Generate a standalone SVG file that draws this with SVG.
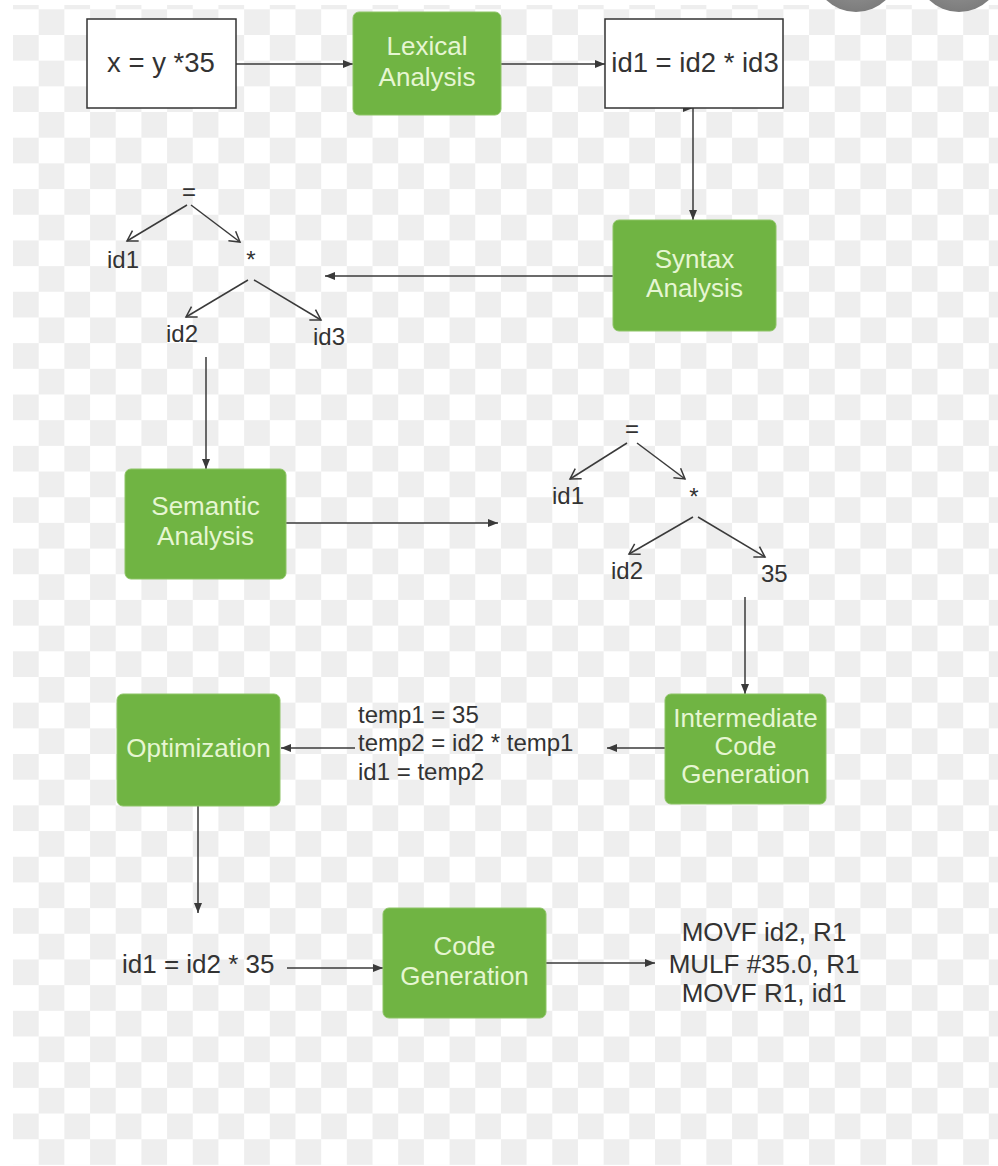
<svg xmlns="http://www.w3.org/2000/svg" width="998" height="1166" viewBox="0 0 998 1166">
<defs>
<pattern id="chk" x="13" y="9.3" width="51.36" height="51.36" patternUnits="userSpaceOnUse">
<rect width="51.36" height="51.36" fill="#ffffff"/>
<rect x="25.68" y="0" width="25.68" height="25.68" fill="#eeeeee"/>
<rect x="0" y="25.68" width="25.68" height="25.68" fill="#eeeeee"/>
</pattern>
<marker id="ah" markerUnits="userSpaceOnUse" markerWidth="11" markerHeight="9" refX="10" refY="4.5" orient="auto">
<path d="M0,0.5 L10,4.5 L0,8.5 z" fill="#3a3a3a"/>
</marker>
<marker id="av" markerUnits="userSpaceOnUse" markerWidth="14" markerHeight="14" refX="11" refY="7" orient="auto">
<path d="M1,1 L11,7 L1,13" fill="none" stroke="#3a3a3a" stroke-width="1.5"/>
</marker>
<radialGradient id="btn" cx="0.5" cy="0.4" r="0.6">
<stop offset="0" stop-color="#a8a8a8"/>
<stop offset="1" stop-color="#7c7c7c"/>
</radialGradient>
</defs>
<style>
.t{font-family:"Liberation Sans",Arial,sans-serif;fill:#333333}
.g{fill:#70b443;stroke:#8dc466;stroke-width:1}
.gt{font-family:"Liberation Sans",Arial,sans-serif;font-size:26px;fill:#e6f6d2;text-anchor:middle}
.w{fill:#ffffff;stroke:#333333;stroke-width:1.5}
.c{stroke:#3a3a3a;stroke-width:1.5;fill:none}
.ar{marker-end:url(#ah)}
.tv{marker-end:url(#av)}
</style>
<rect width="998" height="1166" fill="#ffffff"/>
<rect x="13" y="5" width="985" height="1160" fill="url(#chk)"/>
<circle cx="856" cy="-31" r="43" fill="url(#btn)"/>
<circle cx="959" cy="-31" r="43" fill="url(#btn)"/>

<g id="connectors">
<line class="c ar" x1="236" y1="64" x2="353" y2="64"/>
<line class="c ar" x1="501" y1="64" x2="605" y2="64"/>
<line class="c ar" x1="693" y1="108" x2="693" y2="220"/>
<path d="M683,104 L693,108 L683,112 z" fill="#3a3a3a"/>
<line class="c ar" x1="613" y1="276" x2="325" y2="276"/>
<line class="c ar" x1="206" y1="357" x2="206" y2="469"/>
<line class="c ar" x1="286" y1="523" x2="498" y2="523"/>
<line class="c ar" x1="745" y1="597" x2="745" y2="694"/>
<line class="c ar" x1="665" y1="748" x2="607" y2="748"/>
<line class="c ar" x1="355" y1="748" x2="281" y2="748"/>
<line class="c ar" x1="198" y1="806" x2="198" y2="913"/>
<line class="c ar" x1="287" y1="968" x2="383" y2="968"/>
<line class="c ar" x1="546" y1="963" x2="655" y2="963"/>
<line class="c tv" x1="187" y1="205" x2="127" y2="241"/>
<line class="c tv" x1="191" y1="205" x2="240" y2="242"/>
<line class="c tv" x1="248" y1="280" x2="186" y2="317"/>
<line class="c tv" x1="254" y1="280" x2="321" y2="320"/>
<line class="c tv" x1="627" y1="443" x2="570" y2="479"/>
<line class="c tv" x1="637" y1="443" x2="685" y2="479"/>
<line class="c tv" x1="693" y1="517" x2="629" y2="554"/>
<line class="c tv" x1="698" y1="517" x2="765" y2="557"/>
</g>

<g id="source">
<rect class="w" x="87" y="19" width="149" height="89"/>
<text class="t" x="161" y="72" font-size="27.5" text-anchor="middle">x = y *35</text>
</g>
<g id="lexical">
<rect class="g" x="353" y="12" width="148" height="103" rx="6"/>
<text class="gt" x="427" y="55">Lexical</text>
<text class="gt" x="427" y="86">Analysis</text>
</g>
<g id="tokens">
<rect class="w" x="605" y="19" width="178" height="89"/>
<text class="t" x="695" y="72" font-size="27.5" text-anchor="middle">id1 = id2 * id3</text>
</g>
<g id="syntax">
<rect class="g" x="613" y="220" width="163" height="111" rx="6"/>
<text class="gt" x="694.5" y="268">Syntax</text>
<text class="gt" x="694.5" y="297">Analysis</text>
</g>
<g id="tree1">
<text class="t" x="189" y="200" font-size="24" text-anchor="middle">=</text>
<text class="t" x="107" y="268" font-size="24">id1</text>
<text class="t" x="251" y="268" font-size="24" text-anchor="middle">*</text>
<text class="t" x="166" y="342" font-size="24">id2</text>
<text class="t" x="313" y="345" font-size="24">id3</text>
</g>
<g id="semantic">
<rect class="g" x="125" y="469" width="161" height="110" rx="6"/>
<text class="gt" x="205.5" y="515">Semantic</text>
<text class="gt" x="205.5" y="545">Analysis</text>
</g>
<g id="tree2">
<text class="t" x="632" y="437" font-size="24" text-anchor="middle">=</text>
<text class="t" x="552" y="504" font-size="24">id1</text>
<text class="t" x="694" y="505" font-size="24" text-anchor="middle">*</text>
<text class="t" x="611" y="579" font-size="24">id2</text>
<text class="t" x="761" y="582" font-size="24">35</text>
</g>
<g id="intermediate">
<rect class="g" x="665" y="694" width="161" height="110" rx="6"/>
<text class="gt" x="745.5" y="727">Intermediate</text>
<text class="gt" x="745.5" y="755">Code</text>
<text class="gt" x="745.5" y="783">Generation</text>
</g>
<g id="threeaddr">
<text class="t" x="358" y="723" font-size="24">temp1 = 35</text>
<text class="t" x="358" y="751" font-size="24">temp2 = id2 * temp1</text>
<text class="t" x="358" y="780" font-size="24">id1 = temp2</text>
</g>
<g id="optimization">
<rect class="g" x="117" y="694" width="163" height="112" rx="6"/>
<text class="gt" x="198.5" y="757">Optimization</text>
</g>
<g id="optimized">
<text class="t" x="122" y="973" font-size="26">id1 = id2 * 35</text>
</g>
<g id="codegen">
<rect class="g" x="383" y="908" width="163" height="110" rx="6"/>
<text class="gt" x="464.5" y="955">Code</text>
<text class="gt" x="464.5" y="985">Generation</text>
</g>
<g id="target">
<text class="t" x="764" y="941" font-size="26" text-anchor="middle">MOVF id2, R1</text>
<text class="t" x="764" y="973" font-size="26" text-anchor="middle">MULF #35.0, R1</text>
<text class="t" x="764" y="1002" font-size="26" text-anchor="middle">MOVF R1, id1</text>
</g>
</svg>
